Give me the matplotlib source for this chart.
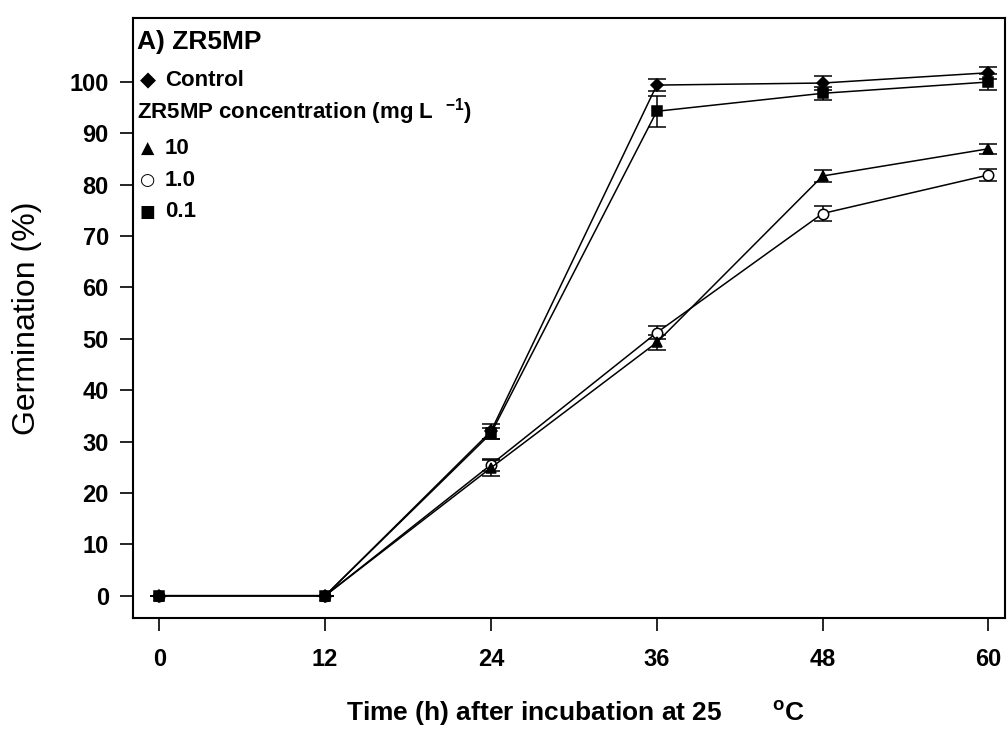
import matplotlib
matplotlib.use('Agg')
import matplotlib.pyplot as plt

plt.rcParams['font.family'] = ['Liberation Sans', 'DejaVu Sans']
plt.rcParams['font.weight'] = 'bold'
plt.rcParams['mathtext.fontset'] = 'custom'
plt.rcParams['mathtext.rm'] = 'Liberation Sans:bold'
plt.rcParams['mathtext.bf'] = 'Liberation Sans:bold'

hours = [0, 12, 24, 36, 48, 60]

control = [0, 0, 32.0, 99.4, 99.8, 101.8]
control_err = [0, 0, 1.5, 1.2, 1.3, 1.2]

conc_10 = [0, 0, 24.9, 49.3, 81.7, 87.0]
conc_10_err = [0, 0, 1.5, 1.5, 1.1, 1.0]

conc_1 = [0, 0, 25.5, 51.2, 74.4, 81.9]
conc_1_err = [0, 0, 1.2, 1.3, 1.5, 1.2]

conc_01 = [0, 0, 31.6, 94.3, 97.8, 100.0]
conc_01_err = [0, 0, 1.0, 3.0, 1.3, 1.5]

x_ticks = [0, 12, 24, 36, 48, 60]
y_ticks = list(range(0, 101, 10))

legend_markers = ['◆', '▲', '○', '■']
legend_labels = ['Control', '10', '1.0', '0.1']


def _plot_series(ax, y, err, marker, facecolor, size):
    ax.errorbar(hours, y, yerr=err, color='black', lw=1.1, marker=marker,
                markersize=size, markerfacecolor=facecolor, markeredgecolor='black',
                markeredgewidth=1.1, capsize=6.5, capthick=1.6, elinewidth=1.1)


fig = plt.figure(figsize=(10.08, 7.32), dpi=100)
ax = fig.add_axes([0.132, 0.156, 0.865, 0.819])

_plot_series(ax, conc_1, conc_1_err, 'o', 'white', 7.5)
_plot_series(ax, conc_10, conc_10_err, '^', 'black', 7.5)
_plot_series(ax, control, control_err, 'D', 'black', 6)
_plot_series(ax, conc_01, conc_01_err, 's', 'black', 7)

ax.set_xlim(-1.9, 61.2)
ax.set_ylim(-4.3, 112.4)
ax.set_xticks(x_ticks)
ax.set_yticks(y_ticks)
ax.tick_params(axis='y', direction='out', length=9.5, width=1.2, pad=8, labelsize=17)
ax.tick_params(axis='x', direction='out', length=9, width=1.2, pad=13, labelsize=17)
for spine in ax.spines.values():
    spine.set_linewidth(1.5)

ax.set_ylabel('Germination (%)', fontsize=23, fontweight='normal')
ax.yaxis.set_label_coords(-0.104, 0.5)
ax.set_xlabel(r'Time (h) after incubation at 25       $^{\mathregular{o}}$C', fontsize=19,
              fontweight='bold')
ax.xaxis.set_label_coords(0.508, -0.135)

ax.text(0.0046, 0.9605, 'A) ZR5MP', transform=ax.transAxes, fontsize=19, va='center')
ax.text(0.0046, 0.844, r'ZR5MP concentration (mg L  $^{\mathregular{-1}}$)', transform=ax.transAxes,
        fontsize=16, va='center')
legend_y = [0.897, 0.782, 0.730, 0.677]
glyph_sizes = [15, 12.5, 12.5, 12]
for sym, label, y, gs in zip(legend_markers, legend_labels, legend_y, glyph_sizes):
    ax.text(0.0166, y, sym, transform=ax.transAxes, fontsize=gs, ha='center', va='center',
            family='DejaVu Sans')
    ax.text(0.0367, y, label, transform=ax.transAxes, fontsize=16, va='center')

fig.savefig('out.png', dpi=100)
